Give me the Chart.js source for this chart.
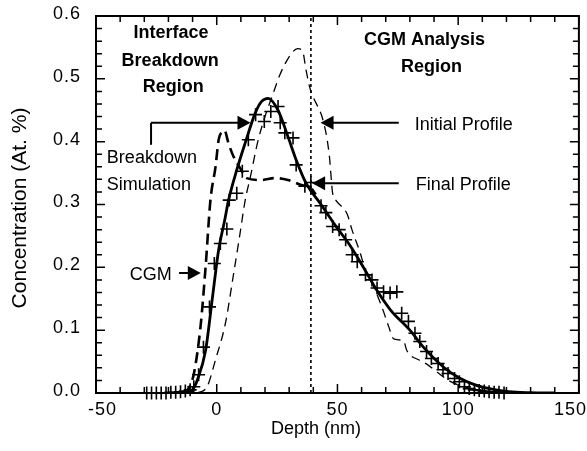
<!DOCTYPE html>
<html>
<head>
<meta charset="utf-8">
<script src="https://cdn.jsdelivr.net/npm/chart.js@4.4.1/dist/chart.umd.min.js"></script>
<style>
  html, body { margin: 0; padding: 0; background: #fff; }
  #wrap { width: 587px; height: 451px; }
</style>
</head>
<body>
<div id="wrap"><canvas id="grafico" width="587" height="451"></canvas></div>
<script>
// Final profile (measured, crosses)
const medidoX = [-29, -27, -25, -23, -21, -19, -17, -15, -13, -11, -9.5, -7.5, -5.5, -3, -1, 1.5, 4.2, 5.2, 8.3, 10.6,
  13.1, 16.1, 19.7, 22.4, 25.4, 26.3, 28.2, 31.6, 32.9, 36.5, 39, 43.2, 45.2, 48, 50.7, 53.4, 56.1, 58.2, 61.6, 64.3,
  66.4, 69.1, 71.8, 74.6, 76.6, 79.4, 82.1, 84.1, 86.9, 88.9, 91.7, 93.7, 95.8, 98.5, 100.5, 102.6, 104.6, 106.7, 108.7, 110.8,
  112.8, 114.9, 116.9, 119];
const medidoY = [0, 0, 0, 0, 0, 0.001, 0.001, 0.002, 0.003, 0.005, 0.01, 0.029, 0.073, 0.137, 0.206, 0.238, 0.261, 0.307, 0.318, 0.353,
  0.403, 0.443, 0.432, 0.448, 0.456, 0.43, 0.414, 0.406, 0.363, 0.329, 0.335, 0.298, 0.287, 0.265, 0.26, 0.244, 0.22, 0.209, 0.188, 0.18,
  0.167, 0.161, 0.159, 0.161, 0.127, 0.114, 0.095, 0.082, 0.066, 0.055, 0.047, 0.037, 0.031, 0.023, 0.018, 0.01, 0.007, 0.005, 0.004, 0.003,
  0.002, 0.001, 0.001, 0];

// Breakdown simulation (solid)
const simX = [-14, -12, -10, -8, -4.6, -1.9, 0.8, 3.3, 4.9, 8.3, 11.8, 15.9, 18.6, 21.3, 25.4, 29.5, 32.9, 37, 43.2, 50,
  55, 60, 66.4, 72, 80, 85.6, 94, 100.5, 107, 114, 121, 130, 140];
const simY = [0, 0.001, 0.005, 0.021, 0.068, 0.148, 0.228, 0.275, 0.307, 0.355, 0.398, 0.445, 0.464, 0.469, 0.45, 0.408, 0.371, 0.334, 0.3, 0.262,
  0.236, 0.205, 0.163, 0.132, 0.1, 0.073, 0.041, 0.024, 0.013, 0.006, 0.002, 0.0005, 0];

// CGM (thick dashed)
const cgmX = [-14, -11.5, -9.4, -6.7, -4.6, -2.6, -0.5, 0.8, 2.2, 3.2, 4.9, 7, 9.7, 12.4, 18.6, 24, 29.5, 35, 39, 41];
const cgmY = [0, 0.008, 0.032, 0.106, 0.201, 0.307, 0.36, 0.403, 0.416, 0.418, 0.397, 0.376, 0.358, 0.342, 0.339, 0.342, 0.339, 0.331, 0.326, 0.316];

// Initial profile (thin dashed)
const inicialX = [-8, -4, -0.5, 3.6, 7, 9.5, 11.8, 14, 17, 20, 23.4, 26, 30, 33.5, 35.5, 37, 38.4, 44.5, 46.6, 48,
  49.3, 54, 56, 59.5, 61.5, 64.3, 68.4, 71.2, 73.3, 77.4, 78.7, 84, 87, 91, 96, 100, 110, 120, 140];
const inicialY = [0, 0.01, 0.053, 0.111, 0.19, 0.25, 0.307, 0.345, 0.4, 0.44, 0.477, 0.505, 0.535, 0.548, 0.545, 0.514, 0.488, 0.427, 0.379, 0.318,
  0.307, 0.285, 0.26, 0.222, 0.196, 0.175, 0.137, 0.106, 0.086, 0.083, 0.068, 0.052, 0.046, 0.034, 0.02, 0.013, 0.004, 0.001, 0];

// interface boundary (dotted)
const limiteX = [39, 39];
const limiteY = [0, 0.6];

const ticksX = [-50, 0, 50, 100, 150];
const ticksY = [0, 0.1, 0.2, 0.3, 0.4, 0.5, 0.6];

const pares = (xs, ys) => xs.map((v, i) => ({ x: v, y: ys[i] }));
const fuente = '"Liberation Sans", Arial, sans-serif';

const flecha = (ctx, x1, y1, x2, y2) => {
  const ang = Math.atan2(y2 - y1, x2 - x1);
  ctx.beginPath();
  ctx.moveTo(x1, y1);
  ctx.lineTo(x2 - 10 * Math.cos(ang), y2 - 10 * Math.sin(ang));
  ctx.stroke();
  ctx.beginPath();
  ctx.moveTo(x2, y2);
  ctx.lineTo(x2 - 13 * Math.cos(ang) + 7 * Math.sin(ang), y2 - 13 * Math.sin(ang) - 7 * Math.cos(ang));
  ctx.lineTo(x2 - 13 * Math.cos(ang) - 7 * Math.sin(ang), y2 - 13 * Math.sin(ang) + 7 * Math.cos(ang));
  ctx.closePath();
  ctx.fill();
};

const marco = {
  id: 'marco',
  afterDatasetsDraw(chart) {
    const { ctx, chartArea: a, scales: { x, y } } = chart;
    const px = v => x.getPixelForValue(v);
    const py = v => y.getPixelForValue(v);
    ctx.save();
    ctx.strokeStyle = '#000';
    ctx.fillStyle = '#000';

    // frame + inward ticks
    ctx.lineWidth = 2;
    ctx.strokeRect(a.left, a.top, a.right - a.left, a.bottom - a.top);
    ctx.lineWidth = 1.5;
    ctx.beginPath();
    for (let v = -50; v <= 150; v += 10) {
      const len = v % 50 === 0 ? 9 : 6;
      ctx.moveTo(px(v), a.bottom); ctx.lineTo(px(v), a.bottom - len);
      ctx.moveTo(px(v), a.top); ctx.lineTo(px(v), a.top + len);
    }
    for (let i = 0; i <= 30; i++) {
      const len = i % 5 === 0 ? 9 : 6;
      const yy = py(i * 0.02);
      ctx.moveTo(a.left, yy); ctx.lineTo(a.left + len, yy);
      ctx.moveTo(a.right, yy); ctx.lineTo(a.right - len, yy);
    }
    ctx.stroke();

    // tick labels
    ctx.font = '18px ' + fuente;
    ctx.letterSpacing = '1px';
    ctx.textAlign = 'center';
    ctx.textBaseline = 'top';
    ticksX.forEach(v => {
      const txt = String(v);
      const w = ctx.measureText(txt).width;
      let cx = px(v);
      cx = Math.max(cx, a.left - 8 + w / 2);
      cx = Math.min(cx, chart.width - w / 2);
      ctx.fillText(txt, cx, a.bottom + 8);
    });
    ctx.textAlign = 'right';
    ctx.textBaseline = 'middle';
    ticksY.forEach(v => ctx.fillText(v.toFixed(1), a.left - 15, py(v) - 2));
    ctx.letterSpacing = '0px';

    // axis titles
    ctx.textAlign = 'center';
    ctx.textBaseline = 'alphabetic';
    ctx.fillText('Depth (nm)', 316, 434);
    ctx.save();
    ctx.translate(26, 208);
    ctx.rotate(-Math.PI / 2);
    ctx.font = '21px ' + fuente;
    ctx.fillText('Concentration (At. %)', 0, 0);
    ctx.restore();

    // region labels
    ctx.font = 'bold 18px ' + fuente;
    ctx.fillText('Interface', px(-18.9), py(0.565));
    ctx.fillText('Breakdown', px(-19.3), py(0.521));
    ctx.fillText('Region', px(-18), py(0.479));
    ctx.fillText('CGM Analysis', px(86.1), py(0.554));
    ctx.fillText('Region', px(88.9), py(0.511));

    // curve labels
    ctx.font = '18px ' + fuente;
    ctx.textAlign = 'left';
    ctx.fillText('Initial Profile', px(82), py(0.419));
    ctx.fillText('Final Profile', px(82.4), py(0.323));
    ctx.fillText('Breakdown', px(-45.5), py(0.366));
    ctx.fillText('Simulation', px(-45.5), py(0.323));
    ctx.fillText('CGM', px(-36), py(0.18));

    // arrows
    ctx.lineWidth = 2;
    flecha(ctx, px(75.4), py(0.43), px(43), py(0.43));
    flecha(ctx, px(75.4), py(0.334), px(39.5), py(0.334));
    flecha(ctx, px(-15.6), py(0.191), px(-6.6), py(0.191));
    ctx.beginPath();
    ctx.moveTo(px(-27.2), py(0.395));
    ctx.lineTo(px(-27.2), py(0.43));
    ctx.stroke();
    flecha(ctx, px(-27.2), py(0.43), px(14), py(0.43));
    ctx.restore();
  }
};

new Chart(document.getElementById('grafico'), {
  type: 'scatter',
  data: {
    datasets: [
      {
        label: 'Initial Profile',
        data: pares(inicialX, inicialY),
        showLine: true,
        borderColor: '#000',
        borderWidth: 1.3,
        borderDash: [9, 6],
        cubicInterpolationMode: 'monotone',
        pointRadius: 0
      },
      {
        label: 'CGM',
        data: pares(cgmX, cgmY),
        showLine: true,
        borderColor: '#000',
        borderWidth: 2.6,
        borderDash: [11, 6],
        cubicInterpolationMode: 'monotone',
        pointRadius: 0
      },
      {
        label: 'Breakdown Simulation',
        data: pares(simX, simY),
        showLine: true,
        borderColor: '#000',
        borderWidth: 2.8,
        cubicInterpolationMode: 'monotone',
        pointRadius: 0
      },
      {
        label: 'Final Profile',
        data: pares(medidoX, medidoY),
        showLine: false,
        clip: false,
        borderColor: '#000',
        borderWidth: 1.6,
        pointStyle: 'cross',
        pointRadius: 6.5
      },
      {
        label: 'Interface',
        data: pares(limiteX, limiteY),
        showLine: true,
        borderColor: '#000',
        borderWidth: 1.6,
        borderDash: [3, 3],
        pointRadius: 0
      }
    ]
  },
  options: {
    responsive: false,
    animation: false,
    devicePixelRatio: 1,
    layout: { padding: { left: 0, right: 2, top: 16, bottom: 0 } },
    plugins: {
      legend: { display: false },
      tooltip: { enabled: false }
    },
    scales: {
      x: {
        type: 'linear', min: -50, max: 150,
        ticks: { display: false },
        grid: { display: false },
        border: { display: false },
        afterFit: s => { s.height = 58; }
      },
      y: {
        type: 'linear', min: 0, max: 0.6,
        ticks: { display: false },
        grid: { display: false },
        border: { display: false },
        afterFit: s => { s.width = 96; }
      }
    }
  },
  plugins: [marco]
});
</script>
</body>
</html>
